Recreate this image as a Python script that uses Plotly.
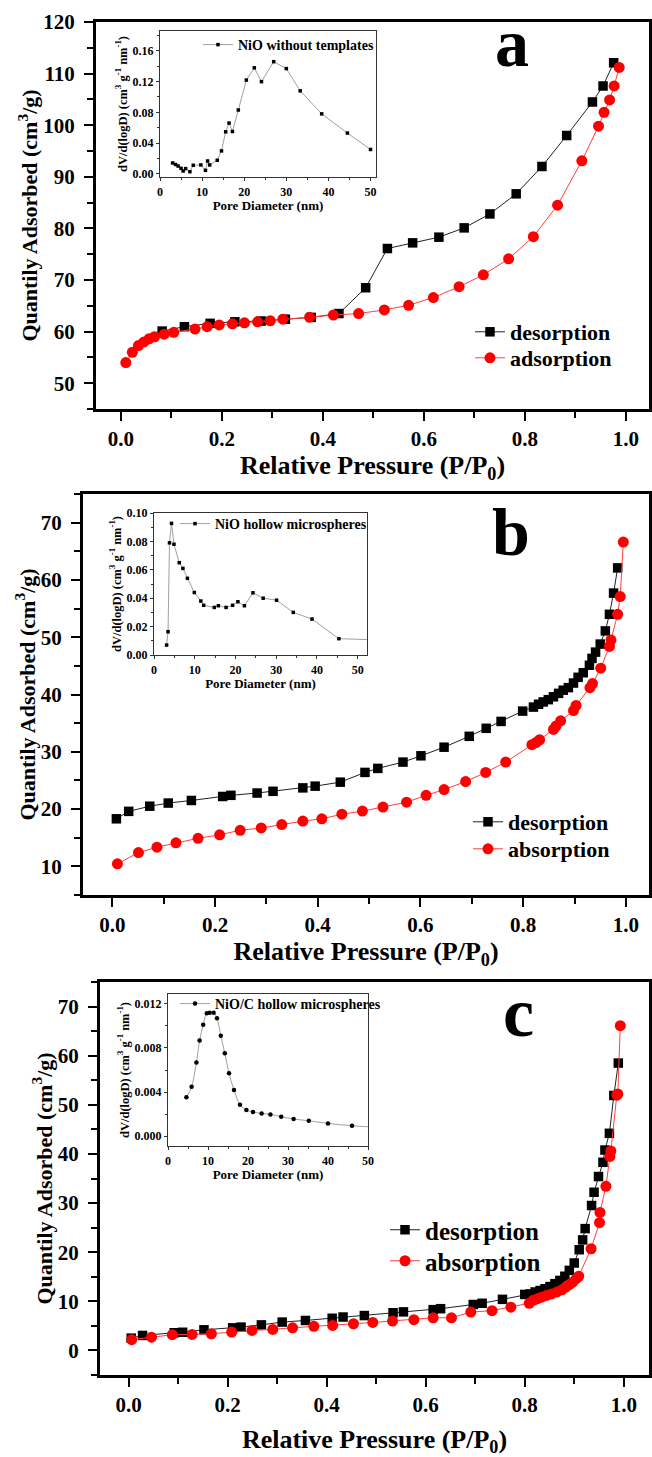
import plotly.graph_objects as go

W, H = 652, 1457
FONT = "Liberation Serif"

# ---------------- data: panel a (NiO without templates) ----------------
des_a_x = [0.082, 0.126, 0.177, 0.226, 0.278, 0.326, 0.377, 0.432, 0.485, 0.528, 0.578, 0.630,
           0.680, 0.731, 0.783, 0.834, 0.883, 0.934, 0.955, 0.976]
des_a_y = [60.1, 60.95, 61.6, 61.9, 62.05, 62.4, 62.75, 63.5, 68.5, 76.1, 77.2, 78.3,
           80.1, 82.8, 86.7, 92.0, 98.0, 104.5, 107.6, 112.1]
ads_a_x = [0.010, 0.023, 0.035, 0.046, 0.056, 0.067, 0.086, 0.105, 0.147, 0.171, 0.195, 0.221,
           0.245, 0.271, 0.296, 0.321, 0.374, 0.421, 0.471, 0.522, 0.570, 0.619, 0.670, 0.718,
           0.768, 0.817, 0.865, 0.913, 0.946, 0.957, 0.968, 0.977, 0.987]
ads_a_y = [54.0, 56.0, 57.3, 58.0, 58.6, 59.0, 59.5, 59.85, 60.5, 60.95, 61.3, 61.5,
           61.7, 61.9, 62.1, 62.4, 62.8, 63.2, 63.5, 64.2, 65.1, 66.6, 68.7, 71.0,
           74.1, 78.4, 84.5, 93.1, 99.8, 102.5, 104.9, 107.6, 111.2]

# ---------------- data: panel b (NiO hollow microspheres) ----------------
des_b_x = [0.008, 0.032, 0.073, 0.109, 0.154, 0.215, 0.231, 0.282, 0.313, 0.371, 0.395, 0.444,
           0.492, 0.517, 0.566, 0.601, 0.646, 0.695, 0.728, 0.757, 0.799, 0.820, 0.830, 0.839,
           0.849, 0.859, 0.869, 0.878, 0.888, 0.898, 0.907, 0.917, 0.929, 0.934, 0.941, 0.950,
           0.960, 0.968, 0.976, 0.984]
des_b_y = [18.3, 19.6, 20.5, 21.05, 21.5, 22.2, 22.4, 22.8, 23.1, 23.7, 24.0, 24.7,
           26.4, 27.1, 28.2, 29.3, 30.8, 32.7, 34.1, 35.3, 37.1, 37.8, 38.3, 38.7,
           39.1, 39.6, 40.2, 40.75, 41.2, 42.0, 43.0, 43.8, 45.1, 46.3, 47.4, 48.8,
           51.1, 54.0, 57.7, 62.1]
abs_b_x = [0.010, 0.051, 0.087, 0.124, 0.167, 0.209, 0.249, 0.290, 0.330, 0.371, 0.408, 0.447,
           0.487, 0.527, 0.573, 0.611, 0.646, 0.688, 0.727, 0.766, 0.817, 0.825, 0.832, 0.859,
           0.864, 0.873, 0.898, 0.903, 0.930, 0.935, 0.951, 0.968, 0.971, 0.984, 0.989, 0.995]
abs_b_y = [10.45, 12.4, 13.35, 14.1, 14.9, 15.5, 16.3, 16.7, 17.3, 17.9, 18.3, 19.1,
           19.65, 20.35, 21.2, 22.4, 23.4, 24.8, 26.4, 28.2, 31.25, 31.6, 32.1, 33.9,
           34.5, 35.4, 37.2, 38.1, 41.2, 41.9, 44.6, 48.4, 49.5, 54.0, 57.1, 66.6]

# ---------------- data: panel c (NiO/C hollow microspheres) ----------------
des_c_x = [0.005, 0.028, 0.092, 0.109, 0.152, 0.210, 0.227, 0.268, 0.310, 0.357, 0.411, 0.433,
           0.476, 0.534, 0.555, 0.615, 0.630, 0.696, 0.714, 0.755, 0.800, 0.811, 0.821, 0.831,
           0.841, 0.851, 0.861, 0.871, 0.881, 0.890, 0.900, 0.910, 0.917, 0.922, 0.935, 0.940,
           0.949, 0.958, 0.962, 0.971, 0.980, 0.989]
des_c_y = [2.5, 3.05, 3.6, 3.7, 4.2, 4.6, 4.75, 5.2, 5.77, 6.1, 6.55, 6.8,
           7.1, 7.67, 7.85, 8.3, 8.5, 9.35, 9.6, 10.4, 11.4, 11.5, 11.9, 12.2,
           12.55, 13.0, 13.6, 14.25, 15.1, 16.3, 17.8, 20.5, 22.5, 24.8, 29.5, 32.2,
           35.4, 38.3, 40.8, 44.2, 51.9, 58.5]
abs_c_x = [0.006, 0.046, 0.088, 0.128, 0.167, 0.208, 0.249, 0.291, 0.331, 0.374, 0.412, 0.454,
           0.493, 0.533, 0.576, 0.615, 0.652, 0.691, 0.734, 0.772, 0.809, 0.817, 0.825, 0.834,
           0.844, 0.854, 0.865, 0.875, 0.883, 0.890, 0.897, 0.904, 0.909, 0.934, 0.951, 0.952,
           0.964, 0.972, 0.974, 0.986, 0.988, 0.993]
abs_c_y = [2.2, 2.7, 3.2, 3.25, 3.4, 3.73, 4.07, 4.27, 4.6, 4.9, 5.1, 5.43,
           5.7, 5.97, 6.25, 6.65, 6.65, 7.8, 8.1, 8.8, 9.6, 10.2, 10.5, 10.85,
           11.2, 11.5, 11.9, 12.35, 12.9, 13.4, 13.9, 14.6, 15.1, 20.7, 26.0, 28.1,
           33.4, 39.5, 40.6, 52.0, 52.2, 66.1]

# ---------------- inset data: pore size distributions ----------------
psd_a_d = [3.0, 3.7, 4.3, 5.0, 5.5, 6.1, 7.1, 7.9, 9.7, 10.8, 11.3, 11.8, 13.6, 14.6, 15.6,
           16.4, 17.2, 18.6, 20.5, 22.4, 24.1, 27.0, 30.0, 33.3, 38.4, 44.5, 50.0]
psd_a_v = [0.014, 0.012, 0.010, 0.007, 0.0035, 0.0066, 0.0026, 0.011, 0.0114, 0.0044, 0.0166,
           0.0114, 0.0175, 0.0297, 0.0546, 0.066, 0.055, 0.083, 0.122, 0.138, 0.120, 0.146,
           0.137, 0.108, 0.078, 0.053, 0.0316]
psd_b_d = [3.1, 3.45, 3.8, 4.3, 4.9, 6.2, 7.1, 8.2, 9.9, 11.5, 12.2, 14.8, 15.8, 17.7, 19.3,
           20.6, 22.2, 24.3, 26.8, 30.1, 34.2, 38.8, 45.4, 56.0]
psd_b_v = [0.0070, 0.0164, 0.079, 0.0927, 0.078, 0.065, 0.061, 0.054, 0.044, 0.038, 0.035,
           0.0335, 0.0347, 0.0335, 0.035, 0.0375, 0.0347, 0.0438, 0.040, 0.0386, 0.030, 0.0253,
           0.0115, 0.0105]
psd_c_d = [4.6, 5.9, 7.1, 7.9, 8.8, 9.7, 10.4, 11.4, 12.25, 13.2, 14.2, 15.25, 16.5, 18.0,
           19.6, 21.25, 23.4, 25.6, 28.3, 31.4, 35.2, 40.0, 46.0, 53.0]
psd_c_v = [0.00352, 0.00448, 0.00667, 0.00867, 0.0101, 0.01115, 0.0112, 0.0112, 0.0107,
           0.00912, 0.00752, 0.0057, 0.00418, 0.00285, 0.00236, 0.00218, 0.00206, 0.00197,
           0.00176, 0.00155, 0.00139, 0.00115, 0.00094, 0.00078]

panel_letters = ["a", "b", "c"]
main_names = [("desorption", "adsorption"), ("desorption", "absorption"), ("desorption", "absorption")]
inset_names = ["NiO without templates", "NiO hollow microspheres", "NiO/C hollow microspheres"]


def px(x):
    return x / W


def py(y):
    return 1 - y / H


fig = go.Figure()

main_sets = [(des_a_x, des_a_y, ads_a_x, ads_a_y),
             (des_b_x, des_b_y, abs_b_x, abs_b_y),
             (des_c_x, des_c_y, abs_c_x, abs_c_y)]
for i, (dx, dy, ax_, ay_) in enumerate(main_sets):
    xa = "x" if i == 0 else f"x{i+1}"
    ya = "y" if i == 0 else f"y{i+1}"
    l1 = "legend" if i == 0 else f"legend{2*i+1}"
    l2 = f"legend{2*i+2}"
    fig.add_trace(go.Scatter(x=dx, y=dy, mode="lines+markers", name=main_names[i][0],
                             xaxis=xa, yaxis=ya, legend=l1,
                             line=dict(color="#222222", width=1),
                             marker=dict(symbol="square", size=9.5, color="black")))
    fig.add_trace(go.Scatter(x=ax_, y=ay_, mode="lines+markers", name=main_names[i][1],
                             xaxis=xa, yaxis=ya, legend=l2,
                             line=dict(color="#ff4040", width=1),
                             marker=dict(symbol="circle", size=11, color="#ff0000")))

inset_sets = [(psd_a_d, psd_a_v, "square", 3.5, "linear"),
              (psd_b_d, psd_b_v, "square", 3.5, "linear"),
              (psd_c_d, psd_c_v, "circle", 4.5, "spline")]
for i, (d, v, sym, ms, shape) in enumerate(inset_sets):
    n = i + 4
    fig.add_trace(go.Scatter(x=d, y=v, mode="lines+markers", name=inset_names[i],
                             xaxis=f"x{n}", yaxis=f"y{n}", legend=f"legend{i+7}",
                             line=dict(color="#a0a0a0", width=1, shape=shape),
                             marker=dict(symbol=sym, size=ms, color="black")))

# ---------------- layout ----------------
main_dom = [((96, 649), (22, 409)), ((83, 649), (494, 895)), ((100, 649), (982, 1375))]
main_xr = [[-0.049, 1.046], [-0.057, 1.045], [-0.058, 1.051]]
main_yr = [[45, 120], [5, 75], [-5, 75]]
ytitle_standoff = [0, 0, 0]
xtitle_standoff = [6, 6, 15]

lay = dict(width=W, height=H, margin=dict(l=0, r=0, t=0, b=0),
           paper_bgcolor="white", plot_bgcolor="white", template="none",
           font=dict(family=FONT, color="black"), showlegend=True)

tickf = dict(family=FONT, size=21, color="black", weight="bold")
xtitlef = dict(family=FONT, size=26, color="black", weight="bold")
ytitlef = dict(family=FONT, size=22, color="black", weight="bold")

for i in range(3):
    k = "" if i == 0 else str(i + 1)
    (x0, x1), (y0, y1) = main_dom[i]
    lay[f"xaxis{k}"] = dict(domain=[px(x0), px(x1)], range=main_xr[i], anchor=f"y{k}",
                            showline=True, mirror=True, linewidth=3, linecolor="black",
                            ticks="outside", ticklen=9, tickwidth=2, tickcolor="black",
                            tick0=0, dtick=0.2, tickformat=".1f", tickfont=tickf,
                            showgrid=False, zeroline=False, automargin=False,
                            minor=dict(ticks="outside", ticklen=6, tickwidth=2, tickcolor="black",
                                       dtick=0.1, tick0=0, showgrid=False),
                            title=dict(text="Relative Pressure (P/P<sub>0</sub>)", font=xtitlef,
                                       standoff=xtitle_standoff[i]))
    lay[f"yaxis{k}"] = dict(domain=[py(y1), py(y0)], range=main_yr[i], anchor=f"x{k}",
                            showline=True, mirror=True, linewidth=3, linecolor="black",
                            ticks="outside", ticklen=9, tickwidth=2, tickcolor="black",
                            tick0=0, dtick=10, tickfont=tickf, ticklabelstandoff=5,
                            showgrid=False, zeroline=False, automargin=False,
                            minor=dict(ticks="outside", ticklen=6, tickwidth=2, tickcolor="black",
                                       dtick=5, tick0=0, showgrid=False),
                            title=dict(text="Quantily Adsorbed (cm<sup>3</sup>/g)", font=ytitlef,
                                       standoff=ytitle_standoff[i]))

inset_dom = [((160, 376), (31, 177)), ((154, 367), (513, 655)), ((168, 368), (994, 1146))]
inset_xr = [[0, 51.3], [0, 52.3], [0, 50]]
inset_yr = [[-0.0043, 0.186], [0, 0.10], [-0.0009, 0.0129]]
inset_ydt = [0.04, 0.02, 0.004]
inset_yfmt = [".2f", ".2f", ".3f"]
itickf = dict(family=FONT, size=12, color="black", weight="bold")
ititlef = dict(family=FONT, size=13, color="black", weight="bold")
iytitlef = dict(family=FONT, size=12.5, color="black", weight="bold")
for i in range(3):
    n = i + 4
    (x0, x1), (y0, y1) = inset_dom[i]
    lay[f"xaxis{n}"] = dict(domain=[px(x0), px(x1)], range=inset_xr[i], anchor=f"y{n}",
                            showline=True, mirror=True, linewidth=1.2, linecolor="#333333",
                            ticks="outside", ticklen=3, tickwidth=1, tickcolor="#333333",
                            tick0=0, dtick=10, tickfont=itickf, showgrid=False, zeroline=False,
                            automargin=False,
                            minor=dict(ticks="outside", ticklen=2, tickwidth=1, tickcolor="#333333",
                                       dtick=5, tick0=0, showgrid=False),
                            title=dict(text="Pore Diameter (nm)", font=ititlef, standoff=2))
    lay[f"yaxis{n}"] = dict(domain=[py(y1), py(y0)], range=inset_yr[i], anchor=f"x{n}",
                            showline=True, mirror=True, linewidth=1.2, linecolor="#333333",
                            ticks="outside", ticklen=3, tickwidth=1, tickcolor="#333333",
                            tick0=0, dtick=inset_ydt[i], tickformat=inset_yfmt[i], tickfont=itickf,
                            showgrid=False, zeroline=False, automargin=False,
                            minor=dict(ticks="outside", ticklen=2, tickwidth=1, tickcolor="#333333",
                                       dtick=inset_ydt[i] / 2, tick0=0, showgrid=False),
                            title=dict(text="dV/d(logD) (cm<sup>3</sup> g<sup>-1</sup> nm<sup>-1</sup>)",
                                       font=iytitlef, standoff=2))

# legends: one entry per legend so each row can be placed like the reference
main_leg_pos = [(470, 311, 22), (470, 337, 22), (468, 801, 22), (468, 828, 22),
                (385, 1207, 25), (385, 1238, 25)]
for j, (lx, ly, fs) in enumerate(main_leg_pos):
    key = "legend" if j == 0 else f"legend{j+1}"
    lay[key] = dict(x=px(lx), y=py(ly), xanchor="left", yanchor="top",
                    bgcolor="rgba(0,0,0,0)", borderwidth=0,
                    font=dict(family=FONT, size=fs, color="black", weight="bold"))
inset_leg_pos = [(198, 29), (175, 508), (175, 988)]
for i, (lx, ly) in enumerate(inset_leg_pos):
    lay[f"legend{i+7}"] = dict(x=px(lx), y=py(ly), xanchor="left", yanchor="top",
                               bgcolor="rgba(0,0,0,0)", borderwidth=0,
                               font=dict(family=FONT, size=14, color="black", weight="bold"))

# panel letters
letter_pos = [(512, 43, 68), (511, 532, 68), (518, 1012, 70)]
annots = []
for i in range(3):
    lx, ly, fs = letter_pos[i]
    annots.append(dict(text=panel_letters[i], x=px(lx), y=py(ly), xref="paper", yref="paper",
                       showarrow=False, xanchor="center", yanchor="middle",
                       font=dict(family=FONT, size=fs, color="black", weight="bold")))
lay["annotations"] = annots

fig.update_layout(**lay)
fig.write_html("out.html", config={"displayModeBar": False},
               post_script="document.body.style.margin='0px';")
